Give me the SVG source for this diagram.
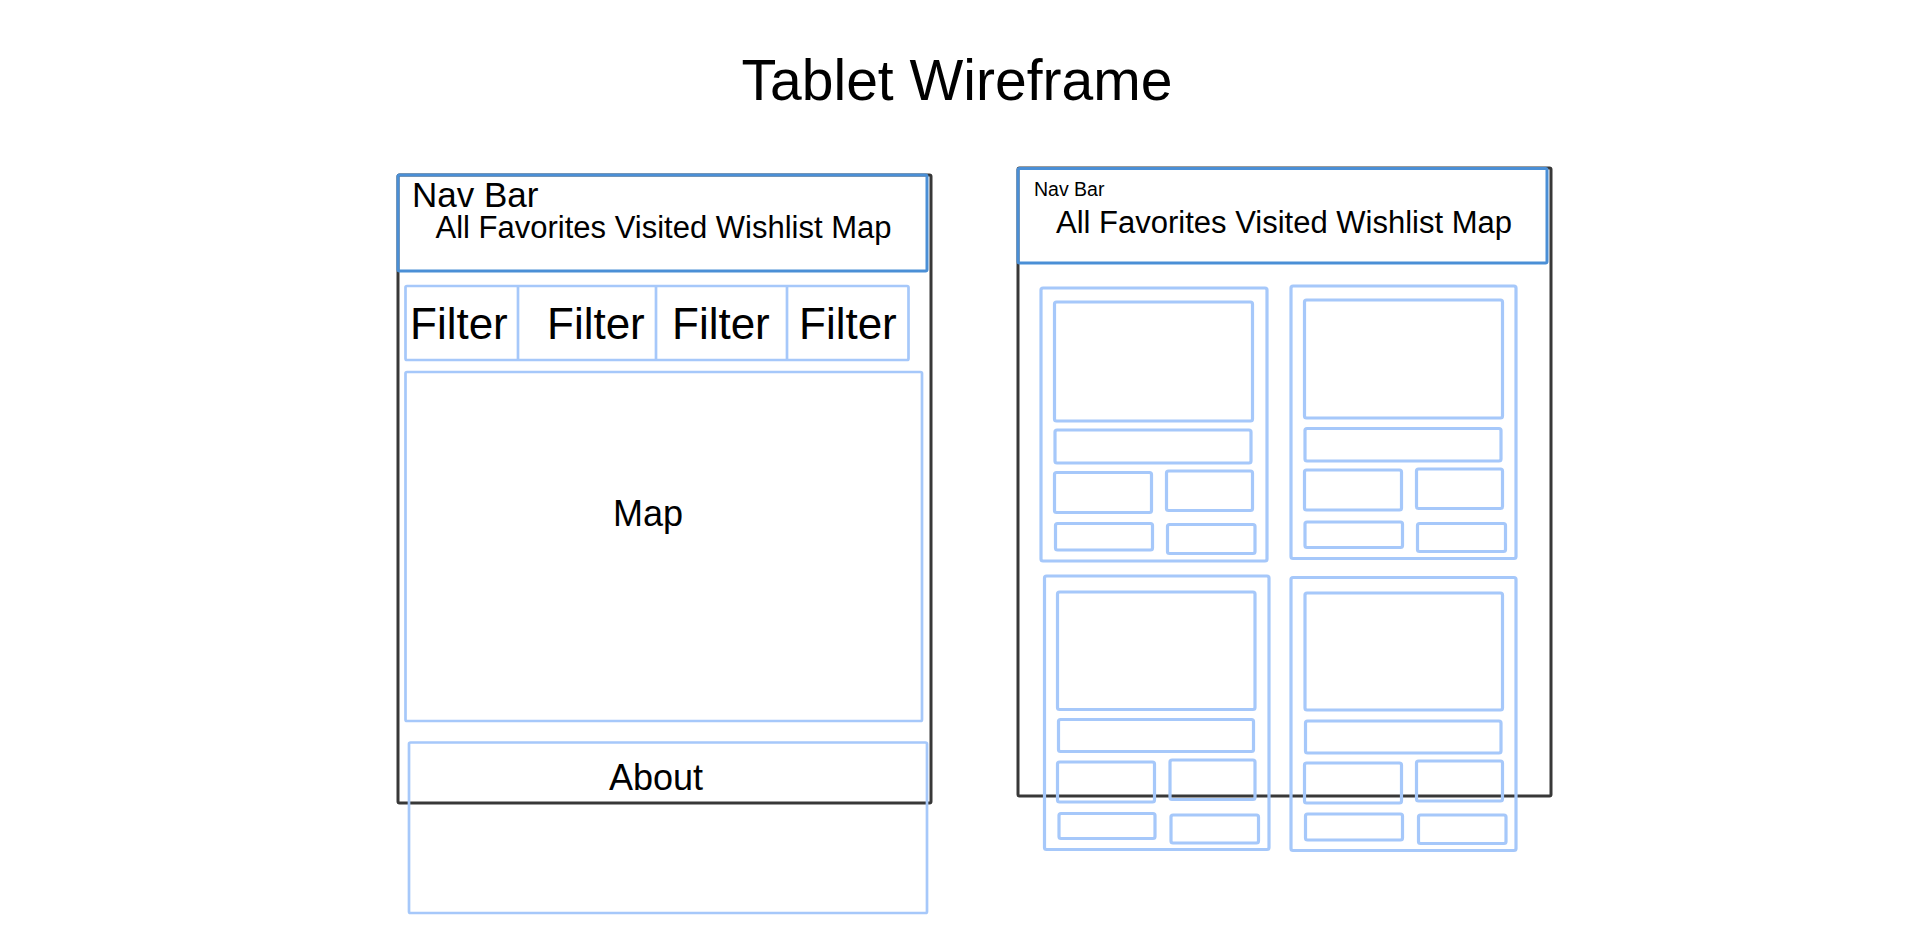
<svg xmlns="http://www.w3.org/2000/svg" width="1920" height="929" viewBox="0 0 1920 929">
<style>
  text { font-family: "Liberation Sans", Arial, Helvetica, sans-serif; fill: #000; }
  .frame { fill: none; stroke: #383838; stroke-width: 3; }
  .nav { fill: none; stroke: #4a8fd6; stroke-width: 3; }
  .lb { fill: none; stroke: #a6c8fa; stroke-width: 2.7; }
  .cb { fill: none; stroke: #a6c8fa; stroke-width: 3.2; }
</style>
<rect width="1920" height="929" fill="#ffffff"/>

<g id="title">
  <text x="957" y="100" font-size="57" text-anchor="middle">Tablet Wireframe</text>
</g>

<!-- Left tablet -->
<g id="left-tablet">
  <rect class="frame" x="398" y="175" width="533" height="628" rx="1.5"/>
</g>
<g id="left-navbar">
  <rect class="nav" x="398" y="175" width="529" height="96" rx="1.5"/>
  <text x="412" y="207" font-size="35">Nav Bar</text>
  <text x="663.5" y="238" font-size="31" text-anchor="middle">All Favorites Visited Wishlist Map</text>
</g>
<g id="left-filters">
  <rect class="lb" x="405.5" y="286" width="503" height="74" rx="1.5"/>
  <line class="lb" x1="518" y1="286" x2="518" y2="360"/>
  <line class="lb" x1="656" y1="286" x2="656" y2="360"/>
  <line class="lb" x1="787" y1="286" x2="787" y2="360"/>
  <text x="410" y="339" font-size="44">Filter</text>
  <text x="547" y="339" font-size="44">Filter</text>
  <text x="672" y="339" font-size="44">Filter</text>
  <text x="799" y="339" font-size="44">Filter</text>
</g>
<g id="left-map">
  <rect class="lb" x="405.5" y="372" width="516.5" height="349" rx="1.5"/>
  <text x="648" y="526" font-size="36" text-anchor="middle">Map</text>
</g>
<g id="left-about">
  <rect class="lb" x="409" y="742.5" width="518" height="170.5" rx="1.5"/>
  <text x="656" y="790" font-size="36" text-anchor="middle">About</text>
</g>

<!-- Right tablet -->
<g id="right-tablet">
  <rect class="frame" x="1018" y="168" width="533" height="628" rx="1.5"/>
</g>
<g id="right-navbar">
  <rect class="nav" x="1018" y="168.5" width="529" height="94.5" rx="1.5"/>
  <text x="1034" y="196" font-size="19.5">Nav Bar</text>
  <text x="1284" y="233" font-size="31" text-anchor="middle">All Favorites Visited Wishlist Map</text>
</g>

<g id="card-top-left">
  <rect class="cb" x="1041" y="288" width="226" height="273" rx="2"/>
  <rect class="cb" x="1054.5" y="302" width="198" height="119" rx="2"/>
  <rect class="cb" x="1055" y="430" width="196" height="33" rx="2"/>
  <rect class="cb" x="1054.5" y="472.5" width="97" height="40" rx="2"/>
  <rect class="cb" x="1166.5" y="471" width="86" height="39.5" rx="2"/>
  <rect class="cb" x="1055.5" y="523.5" width="97" height="26.5" rx="2"/>
  <rect class="cb" x="1167.5" y="524.5" width="87.5" height="29" rx="2"/>
</g>
<g id="card-top-right">
  <rect class="cb" x="1291" y="286" width="225" height="272.5" rx="2"/>
  <rect class="cb" x="1304.5" y="300" width="198" height="118" rx="2"/>
  <rect class="cb" x="1305" y="428.5" width="196" height="32.5" rx="2"/>
  <rect class="cb" x="1304.5" y="470" width="97" height="40" rx="2"/>
  <rect class="cb" x="1416.5" y="469" width="86" height="39.5" rx="2"/>
  <rect class="cb" x="1305" y="522" width="97.5" height="25.5" rx="2"/>
  <rect class="cb" x="1417.5" y="523.5" width="88" height="28" rx="2"/>
</g>
<g id="card-bottom-left">
  <rect class="cb" x="1044.5" y="576" width="224.5" height="273.5" rx="2"/>
  <rect class="cb" x="1057.5" y="592" width="197.5" height="117.5" rx="2"/>
  <rect class="cb" x="1058.5" y="719.5" width="195" height="32" rx="2"/>
  <rect class="cb" x="1057.5" y="762" width="97" height="40" rx="2"/>
  <rect class="cb" x="1170" y="760" width="85" height="39.5" rx="2"/>
  <rect class="cb" x="1059" y="813.5" width="96" height="25" rx="2"/>
  <rect class="cb" x="1171" y="815" width="87.5" height="28" rx="2"/>
</g>
<g id="card-bottom-right">
  <rect class="cb" x="1291" y="577.5" width="225" height="273" rx="2"/>
  <rect class="cb" x="1305" y="593" width="197.5" height="117" rx="2"/>
  <rect class="cb" x="1305.5" y="721" width="195.5" height="32" rx="2"/>
  <rect class="cb" x="1304.5" y="763" width="97" height="40" rx="2"/>
  <rect class="cb" x="1416.5" y="761" width="86" height="40" rx="2"/>
  <rect class="cb" x="1305.5" y="814" width="97" height="26" rx="2"/>
  <rect class="cb" x="1418.5" y="815" width="87.5" height="28.5" rx="2"/>
</g>

<g id="connectors"/>
</svg>
